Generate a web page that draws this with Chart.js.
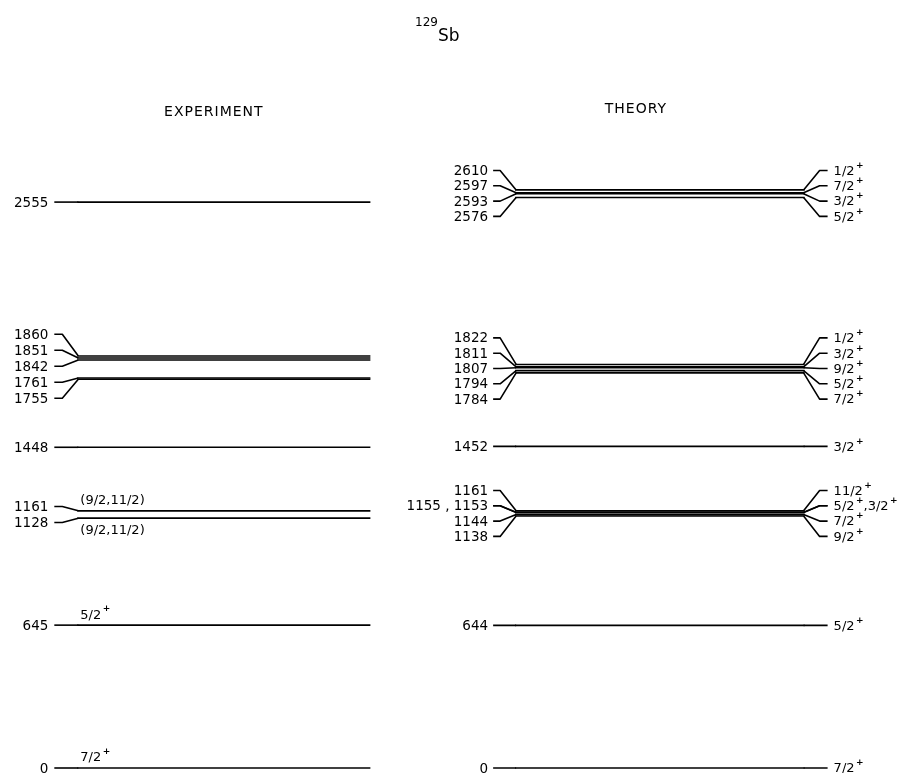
<!DOCTYPE html>
<html>
<head>
<meta charset="utf-8">
<script src="https://cdn.jsdelivr.net/npm/chart.js@4"></script>
<style>
  body { margin: 0; background: #fff; }
</style>
</head>
<body>
<canvas id="levelChart" width="899" height="773"></canvas>
<script>
// Level energies (keV) and spin labels, lowest first
const expEnergies = [0, 645, 1128, 1161, 1448, 1755, 1761, 1842, 1851, 1860, 2555];
const expSpins = ['7/2+', '5/2+', '(9/2,11/2)', '(9/2,11/2)', '', '', '', '', '', '', ''];
const thEnergies = [0, 644, 1138, 1144, 1153, 1155, 1161, 1452, 1784, 1794, 1807, 1811, 1822, 2576, 2593, 2597, 2610];
const thSpins = ['7/2+', '5/2+', '9/2+', '7/2+', '3/2+', '5/2+', '11/2+', '3/2+', '7/2+', '5/2+', '9/2+', '3/2+', '1/2+', '5/2+', '3/2+', '7/2+', '1/2+'];
const columnTitles = ['EXPERIMENT', 'THEORY'];

// x extent of the level lines (x axis runs 0..10 across the page)
const expSpan = [0.86, 4.12];
const thSpan = [5.73, 8.95];

const FONT = '"DejaVu Sans", sans-serif';
const LW = 1.6;

function levelDatasets(energies, span) {
  return energies.map(e => ({
    data: [{ x: span[0], y: e }, { x: span[1], y: e }],
    borderColor: '#000',
    borderWidth: LW,
    pointRadius: 0,
    showLine: true,
    clip: false
  }));
}

// one label per level (near-degenerate levels share one), spread apart so they don't overlap
function layoutLabels(energies, spins, yScale, gap) {
  const items = [];
  energies.forEach((e, i) => {
    const last = items[items.length - 1];
    if (last && e - last.energies[last.energies.length - 1] < 3) {
      last.energies.push(e);
      last.text = e + ' , ' + last.text;
      last.spin = spins[i] + ',' + last.spin;
    } else {
      items.push({ energies: [e], text: String(e), spin: spins[i] });
    }
  });
  items.forEach(it => {
    it.pys = it.energies.map(e => yScale.getPixelForValue(e));
    it.py = it.pys.reduce((s, v) => s + v, 0) / it.pys.length;
  });
  items.reverse(); // top of the page first

  let clusters = items.map(it => ({ list: [it], center: it.py }));
  let merged = true;
  while (merged) {
    merged = false;
    for (let k = 0; k < clusters.length - 1; k++) {
      const a = clusters[k], b = clusters[k + 1];
      const aBottom = a.center + (a.list.length - 1) * gap / 2;
      const bTop = b.center - (b.list.length - 1) * gap / 2;
      if (bTop - aBottom < gap) {
        const list = a.list.concat(b.list);
        const center = list.reduce((s, it) => s + it.py, 0) / list.length;
        clusters.splice(k, 2, { list, center });
        merged = true;
        break;
      }
    }
  }
  clusters.forEach(c => c.list.forEach((it, j) => {
    it.ly = c.center + (j - (c.list.length - 1) / 2) * gap;
  }));
  return items;
}

function drawSpin(ctx, text, x, y) {
  ctx.textBaseline = 'middle';
  ctx.textAlign = 'left';
  const parts = text.split(/(\+)/).filter(p => p !== '');
  let cx = x;
  parts.forEach(p => {
    if (p === '+') {
      ctx.font = 'bold 9px ' + FONT;
      ctx.fillText('+', cx + 1.5, y - 6);
      cx += ctx.measureText('+').width + 1.5;
    } else {
      ctx.font = '13px ' + FONT;
      ctx.fillText(p, cx, y);
      cx += ctx.measureText(p).width + (p === ',' ? 3 : 0);
    }
  });
}

const schemePlugin = {
  id: 'scheme',
  afterDatasetsDraw(chart) {
    const { ctx, scales } = chart;
    const x = scales.x, y = scales.y;
    ctx.save();
    ctx.fillStyle = '#000';
    ctx.strokeStyle = '#000';
    ctx.lineWidth = LW;
    ctx.lineJoin = 'round';

    // title: superscript mass number
    ctx.textAlign = 'left';
    ctx.textBaseline = 'alphabetic';
    ctx.font = '12px ' + FONT;
    ctx.fillText('129', 415, 26);
    ctx.font = '17px ' + FONT;
    ctx.fillText('Sb', 438, 41);

    // column headings
    ctx.font = '14px ' + FONT;
    ctx.textAlign = 'center';
    ctx.letterSpacing = '1px';
    ctx.fillText(columnTitles[0], (x.getPixelForValue(expSpan[0]) + x.getPixelForValue(expSpan[1])) / 2 - 10, 116);
    ctx.fillText(columnTitles[1], (x.getPixelForValue(thSpan[0]) + x.getPixelForValue(thSpan[1])) / 2 - 24, 113);
    ctx.letterSpacing = '0px';

    // experiment: energy labels on the left, spins written on the line
    const expStart = x.getPixelForValue(expSpan[0]);
    const expLabels = layoutLabels(expEnergies, expSpins, y, 16);
    expLabels.forEach((it, idx) => {
      it.pys.forEach(py => {
        ctx.beginPath();
        ctx.moveTo(expStart - 23, it.ly);
        ctx.lineTo(expStart - 15, it.ly);
        ctx.lineTo(expStart + 1, py);
        ctx.stroke();
      });
      ctx.font = '13.5px ' + FONT;
      ctx.textAlign = 'right';
      ctx.textBaseline = 'middle';
      ctx.fillText(it.text, expStart - 29, it.ly + 1);
      if (it.spin) {
        // put the spin under the line when a labelled level sits just above
        const above = expLabels[idx - 1];
        const below = above && above.spin && above.energies[0] - it.energies[0] < 60;
        drawSpin(ctx, it.spin, expStart + 3, below ? it.py + 12 : it.py - 10);
      }
    });

    // theory: energies left, spins right
    const thStart = x.getPixelForValue(thSpan[0]);
    const thEnd = x.getPixelForValue(thSpan[1]);
    const thLabels = layoutLabels(thEnergies, thSpins, y, 15.3);
    thLabels.forEach(it => {
      it.pys.forEach(py => {
        ctx.beginPath();
        ctx.moveTo(thStart - 22, it.ly);
        ctx.lineTo(thStart - 15, it.ly);
        ctx.lineTo(thStart + 1, py);
        ctx.moveTo(thEnd - 1, py);
        ctx.lineTo(thEnd + 15, it.ly);
        ctx.lineTo(thEnd + 23, it.ly);
        ctx.stroke();
      });
      ctx.font = '13.5px ' + FONT;
      ctx.textAlign = 'right';
      ctx.textBaseline = 'middle';
      ctx.fillText(it.text, thStart - 27, it.ly + 1);
      drawSpin(ctx, it.spin, thEnd + 29, it.ly + 1);
    });
    ctx.restore();
  }
};

new Chart(document.getElementById('levelChart'), {
  type: 'scatter',
  data: {
    datasets: levelDatasets(expEnergies, expSpan).concat(levelDatasets(thEnergies, thSpan))
  },
  options: {
    responsive: false,
    animation: false,
    layout: { padding: { top: 129, bottom: 5, left: 0, right: 0 } },
    scales: {
      x: { type: 'linear', min: 0, max: 10, display: false },
      y: { type: 'linear', min: 0, max: 2885, display: false }
    },
    plugins: { legend: { display: false }, tooltip: { enabled: false } }
  },
  plugins: [schemePlugin]
});
</script>
</body>
</html>
